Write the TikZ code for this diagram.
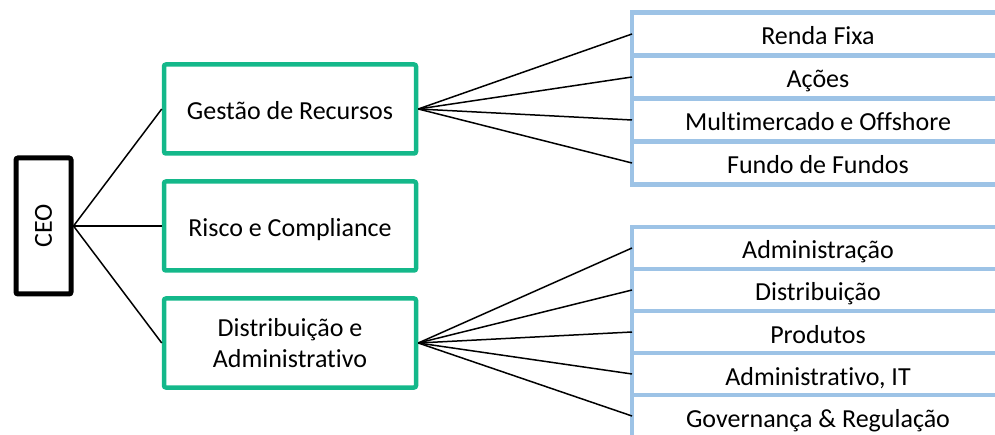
\documentclass[tikz,border=0pt]{standalone}
\usepackage{fontspec}
\setmainfont{Carlito}[Ligatures=NoCommon]
\usetikzlibrary{positioning}
\definecolor{areagreen}{RGB}{20,184,138}
\definecolor{teamblue}{RGB}{157,195,230}
\tikzset{
    one-line/.style = {text height=24pt, text depth=2pt},
    ceo-box/.style = {draw=black, line width=5pt, rounded corners=2pt, minimum width=55pt, minimum height=136pt, inner sep=0pt, font=\fontsize{26}{30}\selectfont},
    area-box/.style = {draw=areagreen, line width=4.5pt, rounded corners=2pt, minimum width=252pt, minimum height=89pt, inner sep=0pt, align=center, font=\fontsize{26}{31}\selectfont},
    team-box/.style = {draw=teamblue, line width=4.5pt, minimum width=372pt, inner sep=0pt, outer sep=0pt, one-line, font=\fontsize{26}{30}\selectfont},
    link/.style = {draw=black, line width=1.5pt},
}

\begin{document}
\begin{tikzpicture}[x=1pt, y=-1pt]
\clip (0,0) rectangle (995,435);

\node [ceo-box] (ceo) at (43.5,226) {\rotatebox{90}{CEO}};

\node [area-box, one-line] (gestao) at (290,109) {Gestão de Recursos};
\node [area-box, one-line] (risco) at (290,226) {Risco e Compliance};
\node [area-box] (distrib) at (290,343) {Distribuição e\\Administrativo};

% teams under asset management
\node [team-box, minimum height=43pt] (renda) at (818,34) {Renda Fixa};
\node [team-box, minimum height=43pt, below=0pt of renda] (acoes) {Ações};
\node [team-box, minimum height=43pt, below=0pt of acoes] (multi) {Multimercado e Offshore};
\node [team-box, minimum height=43pt, below=0pt of multi] (fundos) {Fundo de Fundos};

% teams under distribution
\node [team-box, minimum height=42pt] (admin) at (818,248) {Administração};
\node [team-box, minimum height=42pt, below=0pt of admin] (dist) {Distribuição};
\node [team-box, minimum height=42pt, below=0pt of dist] (prod) {Produtos};
\node [team-box, minimum height=42pt, below=0pt of prod] (adm-it) {Administrativo, IT};
\node [team-box, minimum height=42pt, below=0pt of adm-it] (gov) {Governança \& Regulação};

\draw [link] (ceo.east) -- (gestao.west);
\draw [link] (ceo.east) -- (risco.west);
\draw [link] (ceo.east) -- (distrib.west);

\foreach \t in {renda, acoes, multi, fundos}
    \draw [link] (gestao.east) -- (\t.west);
\foreach \t in {admin, dist, prod, adm-it, gov}
    \draw [link] (distrib.east) -- (\t.west);
\end{tikzpicture}
\end{document}
